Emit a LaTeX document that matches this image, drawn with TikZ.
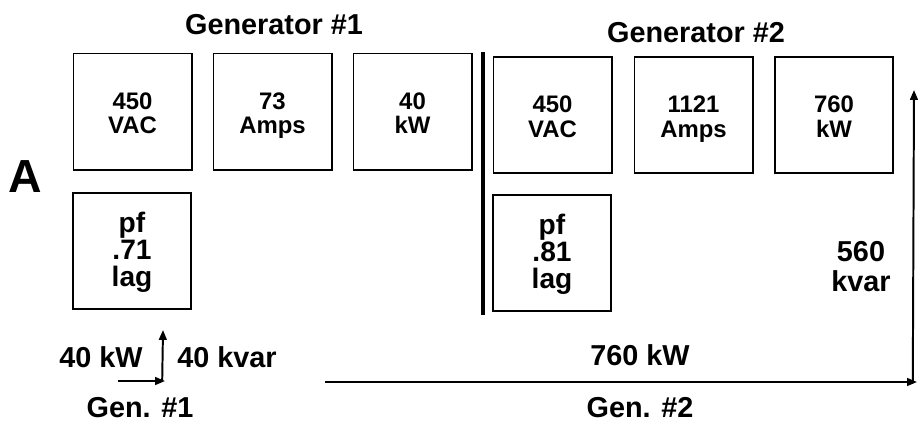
\documentclass[tikz,border=0pt]{standalone}
\usepackage{fontspec}
\setmainfont{Liberation Sans}
\usetikzlibrary{arrows.meta, positioning}
\newcommand{\padtop}[1]{\rule{0pt}{#1}}

\begin{document}
\begin{tikzpicture}[
    x=0.025cm, y=-0.025cm,
    meter/.style={rectangle, draw, line width=1.4pt, minimum width=2.95cm, minimum height=2.9cm, align=center, inner sep=0pt, font=\fontsize{17}{17.7}\selectfont\bfseries},
    pfbox/.style={meter, font=\fontsize{20}{19.5}\selectfont\bfseries},
    title/.style={font=\fontsize{20.5}{22}\selectfont\bfseries},
    label/.style={font=\fontsize{20.5}{21.3}\selectfont\bfseries, align=center, inner sep=0pt},
    arrow/.style={-{Triangle[length=7pt,width=5.5pt]}, line width=1.4pt}
]
\useasboundingbox (0,0) rectangle (919,423);

% generator 1
\node[title] (gen1) at (274,25) {Generator \#1};
\node[meter] (g1volt) at (132.5,111.5) {\padtop{19.5pt}450\\VAC\strut};
\node[meter] (g1amp) at (272.5,111.5) {\padtop{19.5pt}73\\Amps\strut};
\node[meter] (g1kw) at (412.5,111.5) {\padtop{19.5pt}40\\kW\strut};
\node[pfbox] (g1pf) at (132,251) {\padtop{18pt}pf\\.71\\lag\strut};

% generator 2
\node[title] (gen2) at (696,33) {Generator \#2};
\node[meter] (g2volt) at (552.5,115) {\padtop{19.5pt}450\\VAC\strut};
\node[meter] (g2amp) at (693.5,115) {\padtop{19.5pt}1121\\Amps\strut};
\node[meter] (g2kw) at (834,115) {\padtop{19.5pt}760\\kW\strut};
\node[pfbox] (g2pf) at (552,253) {\padtop{18pt}pf\\.81\\lag\strut};

\node[font=\fontsize{33}{33}\selectfont\bfseries] (part) at (25,177) {A};

% divider
\coordinate (divtop) at (483,52);
\coordinate (divbot) at (483,315);
\draw[line width=2.8pt] (divtop) -- (divbot);

% power triangles
\coordinate (g1start) at (118,381);
\coordinate (g1corner) at (165,381);
\coordinate (g1top) at (163,330);
\draw[arrow] (g1start) -- (g1corner);
\draw[arrow] ([xshift=-2]g1corner) -- (g1top);
\node[label] (g1kwl) at (101,357) {40 kW};
\node[label] (g1kvar) at (227,357) {40 kvar};
\node[label] (g1name) at (140,408) {Gen. \#1};

\coordinate (g2start) at (325,382);
\coordinate (g2corner) at (917,382);
\coordinate (g2top) at (914,90);
\draw[arrow] (g2start) -- (g2corner);
\draw[arrow] ([xshift=-3]g2corner) -- (g2top);
\node[label] (g2kwl) at (640,355) {760 kW};
\node[label] (g2kvar) at (861,267) {560\\kvar};
\node[label] (g2name) at (640,408) {Gen. \#2};

\end{tikzpicture}
\end{document}
